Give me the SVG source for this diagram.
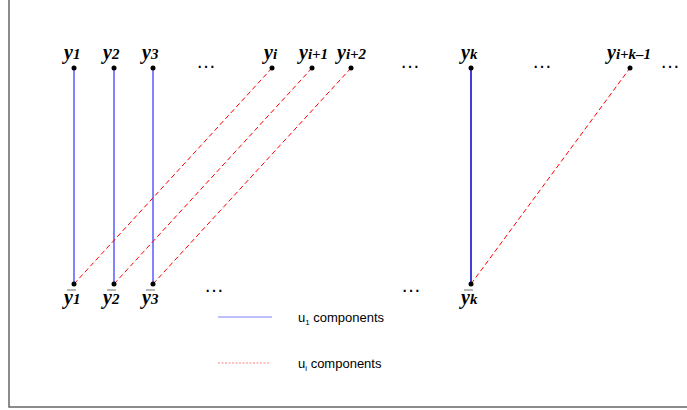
<svg xmlns="http://www.w3.org/2000/svg" width="687" height="410" viewBox="0 0 687 410">
<style>
.lab{font-family:"Liberation Serif","DejaVu Serif",serif;font-style:italic;font-weight:bold;font-size:20px;fill:#000}
.sub{font-size:15px}
.dots{font-family:"Liberation Sans",sans-serif;font-size:20px;fill:#000}
.leg{font-family:"Liberation Sans",Arial,sans-serif;font-size:13px;fill:#000}
.blue{stroke:#5a5aff;stroke-width:1.5}
.dblue{stroke:#0000c8;stroke-width:1.5}
.red{stroke:#ff0000;stroke-width:1;stroke-dasharray:5,3}
.bar{stroke:#888;stroke-width:1.2}
</style>
<rect width="687" height="410" fill="#fff"/>
<path d="M9,0 V407 H687" fill="none" stroke="#666" stroke-width="1.5"/>
<g id="connectors">
<line class="blue" x1="74" y1="68" x2="74" y2="284"/>
<line class="blue" x1="114" y1="68" x2="114" y2="284"/>
<line class="blue" x1="153" y1="68" x2="153" y2="284"/>
<line class="dblue" x1="471" y1="68" x2="471" y2="284"/>
<line class="red" x1="74" y1="284" x2="272" y2="68"/>
<line class="red" x1="114" y1="284" x2="312" y2="68"/>
<line class="red" x1="153" y1="284" x2="351" y2="68"/>
<line class="red" x1="471" y1="284" x2="630" y2="68"/>
</g>
<g id="top-y1"><circle cx="74" cy="68" r="2.5"/><text class="lab" x="64" y="59">y<tspan class="sub">1</tspan></text></g>
<g id="top-y2"><circle cx="114" cy="68" r="2.5"/><text class="lab" x="103" y="59">y<tspan class="sub">2</tspan></text></g>
<g id="top-y3"><circle cx="153" cy="68" r="2.5"/><text class="lab" x="142" y="59">y<tspan class="sub">3</tspan></text></g>
<g id="top-yi"><circle cx="272" cy="68" r="2.5"/><text class="lab" x="264" y="59">y<tspan class="sub">i</tspan></text></g>
<g id="top-yi1"><circle cx="312" cy="68" r="2.5"/><text class="lab" x="299" y="59">y<tspan class="sub">i+1</tspan></text></g>
<g id="top-yi2"><circle cx="351" cy="68" r="2.5"/><text class="lab" x="337" y="59">y<tspan class="sub">i+2</tspan></text></g>
<g id="top-yk"><circle cx="471" cy="68" r="2.5"/><text class="lab" x="461" y="59">y<tspan class="sub">k</tspan></text></g>
<g id="top-yik1"><circle cx="630" cy="68" r="2.5"/><text class="lab" x="607" y="59">y<tspan class="sub">i+k–1</tspan></text></g>
<g id="bot-y1"><circle cx="74" cy="284" r="2.5"/><line class="bar" x1="67" y1="290" x2="76" y2="290"/><text class="lab" x="64" y="304">y<tspan class="sub">1</tspan></text></g>
<g id="bot-y2"><circle cx="114" cy="284" r="2.5"/><line class="bar" x1="107" y1="290" x2="116" y2="290"/><text class="lab" x="103" y="304">y<tspan class="sub">2</tspan></text></g>
<g id="bot-y3"><circle cx="153" cy="284" r="2.5"/><line class="bar" x1="146" y1="290" x2="155" y2="290"/><text class="lab" x="142" y="304">y<tspan class="sub">3</tspan></text></g>
<g id="bot-yk"><circle cx="471" cy="284" r="2.5"/><line class="bar" x1="464" y1="290" x2="473" y2="290"/><text class="lab" x="461" y="304">y<tspan class="sub">k</tspan></text></g>
<g id="ellipses">
<text class="dots" x="196" y="68">…</text>
<text class="dots" x="400" y="68">…</text>
<text class="dots" x="532" y="68">…</text>
<text class="dots" x="660" y="68">…</text>
<text class="dots" x="204" y="292">…</text>
<text class="dots" x="401" y="292">…</text>
</g>
<g id="legend">
<line x1="218" y1="317" x2="272" y2="317" stroke="#aaaaff" stroke-width="1.5"/>
<text class="leg" x="298" y="322">u<tspan font-size="8" dy="3">1</tspan><tspan dy="-3"> components</tspan></text>
<line x1="218" y1="363" x2="270" y2="363" stroke="#ff6666" stroke-width="0.8" stroke-dasharray="2,1.5"/>
<text class="leg" x="298" y="368">u<tspan font-size="8" dy="3">i</tspan><tspan dy="-3"> components</tspan></text>
</g>
</svg>
